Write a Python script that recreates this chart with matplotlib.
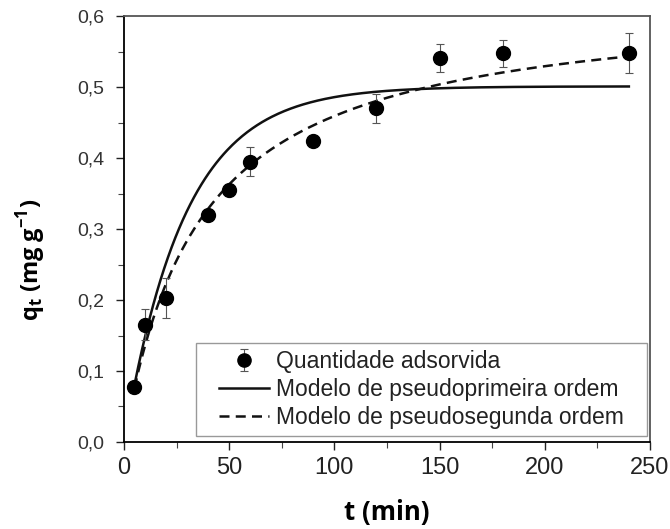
import numpy as np
import matplotlib
matplotlib.use("Agg")
import matplotlib.pyplot as plt
from matplotlib.ticker import MultipleLocator, FuncFormatter
from matplotlib.patches import Rectangle

# Experimental data
t_data = [5, 10, 20, 40, 50, 60, 90, 120, 150, 180, 240]
q_data = [0.078, 0.165, 0.203, 0.320, 0.355, 0.395, 0.424, 0.470, 0.541, 0.548, 0.548]
q_err = [0.0, 0.022, 0.028, 0.006, 0.008, 0.020, 0.006, 0.020, 0.020, 0.019, 0.028]

# Fitted model parameters
qe1, k1 = 0.501, 0.035      # pseudo-first order
qe2, a2 = 0.625, 0.0277     # pseudo-second order (a2 = k2*qe2)

labels = ["Quantidade adsorvida", "Modelo de pseudoprimeira ordem",
          "Modelo de pseudosegunda ordem"]

plt.rcParams['font.family'] = ['Liberation Sans', 'DejaVu Sans']

fig = plt.figure(figsize=(6.7, 5.29), dpi=100)
ax = fig.add_axes([0.185, 0.1645, 0.785, 0.805])

t = np.linspace(5, 240, 400)
pfo = qe1 * (1 - np.exp(-k1 * t))
pso = qe2 * a2 * t / (1 + a2 * t)

h_pts = ax.errorbar(t_data, q_data, yerr=q_err, fmt='o', color='black', ms=10,
                    ecolor='#555555', elinewidth=0.8, capsize=3, capthick=0.8,
                    zorder=3, label=labels[0])
h1, = ax.plot(t, pfo, '-', color='#111111', lw=1.8, label=labels[1])
h2, = ax.plot(t, pso, '--', color='#111111', lw=1.8, dashes=(4, 2.5), label=labels[2])

ax.set_xlim(0, 250)
ax.set_ylim(0, 0.6)
ax.xaxis.set_major_locator(MultipleLocator(50))
ax.xaxis.set_minor_locator(MultipleLocator(25))
ax.yaxis.set_major_locator(MultipleLocator(0.1))
ax.yaxis.set_minor_locator(MultipleLocator(0.05))
ax.yaxis.set_major_formatter(FuncFormatter(lambda v, p: f"{v:.1f}".replace('.', ',')))
ax.tick_params(which='major', direction='out', length=6, width=1, colors='#222222')
ax.tick_params(axis='x', which='major', labelsize=17, labelcolor='#222222', pad=5)
ax.tick_params(axis='y', which='major', labelsize=14, labelcolor='#333333', pad=8)
ax.tick_params(which='minor', direction='out', length=4, width=0.8, colors='#444444')

for s in ['left', 'bottom']:
    ax.spines[s].set_color('black')
    ax.spines[s].set_linewidth(1.3)
for s in ['top', 'right']:
    ax.spines[s].set_color('#555555')
    ax.spines[s].set_linewidth(1.3)

ax.set_xlabel("t (min)", fontsize=18.5, fontweight='bold', family=['Open Sans', 'DejaVu Sans'])
ax.xaxis.set_label_coords(0.5, -0.135)
ax.set_ylabel(r"q$_\mathregular{t}$ (mg g$^\mathregular{-1}$)", fontsize=17, fontweight='bold',
              family=['Open Sans', 'DejaVu Sans'])
ax.yaxis.set_label_coords(-0.145, 0.427)

leg = ax.legend(handles=[h_pts, h1, h2], labels=labels, loc='lower right',
                bbox_to_anchor=(0.964, 0.014), borderaxespad=0, fontsize=16.5,
                frameon=False, handlelength=2.2, handletextpad=0.3,
                borderpad=0.3, labelspacing=0.22, markerscale=0.95)
leg.set_zorder(6)
for txt in leg.get_texts():
    txt.set_color('#222222')

# wider legend frame (extra horizontal padding like the original)
fig.canvas.draw()
bb = leg.get_window_extent().transformed(fig.transFigure.inverted())
padx = 16 / 670
frame = Rectangle((bb.x0 - padx, bb.y0), bb.width + 2 * padx, bb.height,
                  transform=fig.transFigure, facecolor='white', edgecolor='#999999',
                  linewidth=1.0, zorder=5.5, clip_on=False)
ax.add_patch(frame)

fig.savefig("out.png", dpi=100)
